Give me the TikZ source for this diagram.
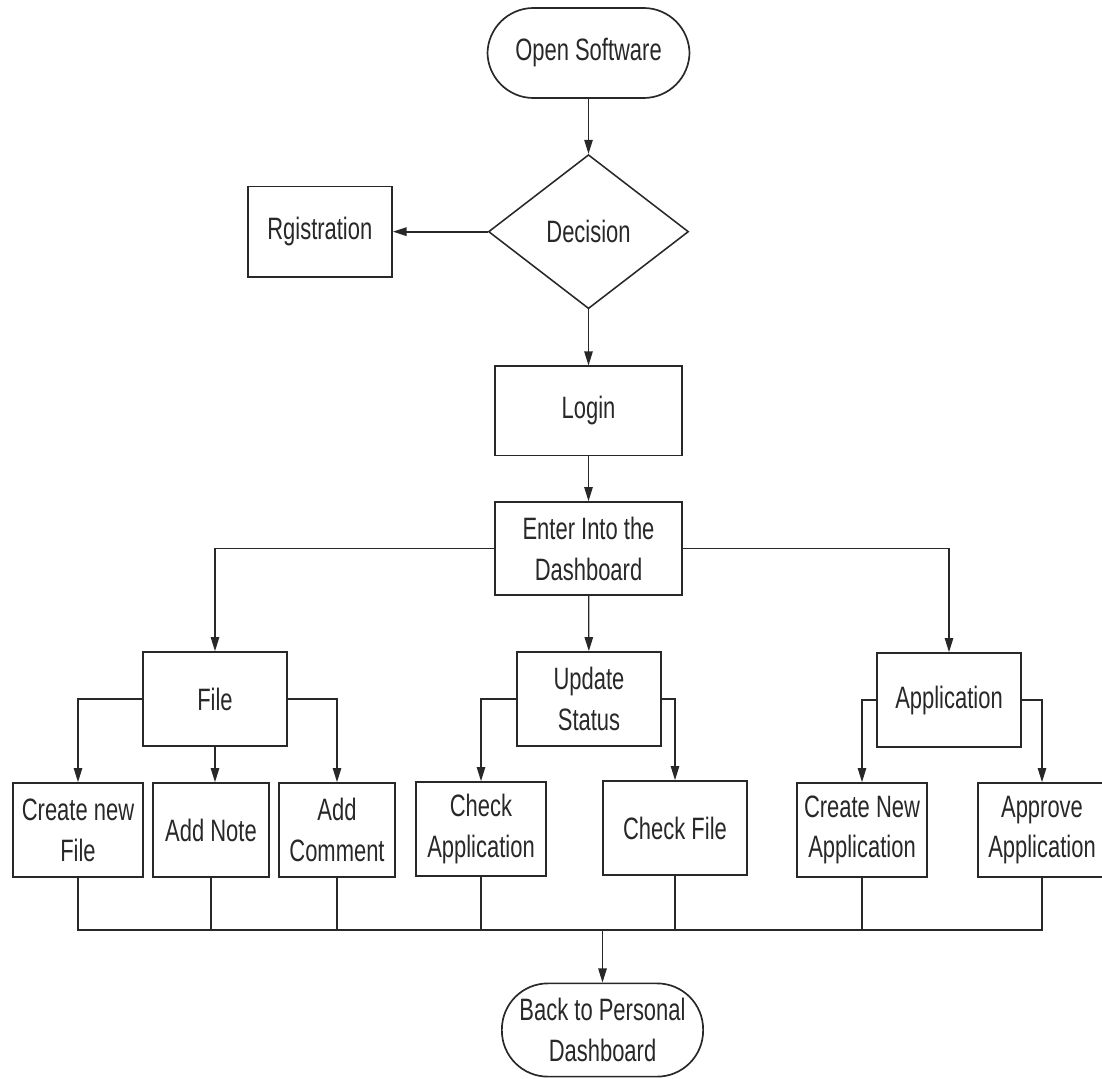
\documentclass[tikz,border=0pt]{standalone}
\usepackage{fontspec}
\setmainfont[FakeStretch=0.71]{Liberation Sans}
\usetikzlibrary{shapes,arrows.meta,positioning}
\definecolor{linegray}{RGB}{40,40,40}

\begin{document}
\begin{tikzpicture}[x=0.025cm, y=-0.025cm,
    every node/.style={font=\fontsize{22}{29}\selectfont, text=linegray},
    terminal/.style={rectangle, draw=linegray, rounded corners=1.15cm, minimum width=5.05cm,
        minimum height=2.25cm, line width=1.2pt, align=center, inner sep=0pt},
    decide/.style={diamond, draw=linegray, minimum width=5cm, minimum height=3.85cm,
        line width=1.1pt, inner sep=0pt},
    box/.style={rectangle, draw=linegray, line width=1.2pt, align=center,
        minimum height=2.35cm, inner sep=0pt},
    arrow/.style={-{Triangle[length=10pt,width=6pt]}, line width=0.9pt, draw=linegray},
    link/.style={line width=0.9pt, draw=linegray}
]
    \useasboundingbox (0,0) rectangle (1102,1078);
    % top of the flow
    \node[terminal] (open) at (588.5,53) {Open Software};
    \node[decide, below=1.375cm of open] (decision) {Decision};
    \node[box, minimum width=3.6cm, minimum height=2.25cm, left=2.375cm of decision] (reg) {Rgistration};
    \node[box, minimum width=4.675cm, minimum height=2.225cm, below=1.4cm of decision] (login) {Login};
    \node[box, minimum width=4.675cm, minimum height=2.325cm, below=1.125cm of login] (enter) {Enter Into the\\Dashboard};
    % second level
    \node[box, minimum width=3.6cm] (file) at (215,699) {File};
    \node[box, minimum width=3.6cm] (update) at (589,699) {Update\\Status};
    \node[box, minimum width=3.6cm] (appl) at (949,700) {Application};
    % third level
    \node[box, minimum width=3.25cm] (createfile) at (78,830) {Create new\\File};
    \node[box, minimum width=2.9cm] (addnote) at (211,830) {Add Note};
    \node[box, minimum width=2.9cm] (addcomment) at (337,830) {Add\\Comment};
    \node[box, minimum width=3.25cm] (checkapp) at (481,829) {Check\\Application};
    \node[box, minimum width=3.6cm] (checkfile) at (675,828) {Check File};
    \node[box, minimum width=3.25cm] (createapp) at (862,830) {Create New\\Application};
    \node[box, minimum width=3.2cm] (approve) at (1042,830) {Approve\\Application};
    \coordinate (bus) at (602.5,930);
    \node[terminal, minimum width=5.03cm, minimum height=2.33cm] (back) at (602.5,1030) {Back to Personal\\Dashboard};

    \draw[arrow] (open) -- (decision);
    \draw[arrow, line width=1.6pt] (decision) -- (reg);
    \draw[arrow] (decision) -- (login);
    \draw[arrow] (login) -- (enter);
    \draw[arrow] (enter.west) -| (file.north);
    \draw[arrow] (enter) -- (update);
    \draw[arrow] (enter.east) -| (appl.north);
    \draw[arrow] (file.west) -| (createfile.north);
    \draw[arrow] (file.south) -- (file.south |- addnote.north);
    \draw[arrow] (file.east) -| (addcomment.north);
    \draw[arrow] (update.west) -| (checkapp.north);
    \draw[arrow] (update.east) -| (checkfile.north);
    \draw[arrow] (appl.west) -| (createapp.north);
    \draw[arrow] (appl.east) -| (approve.north);
    \foreach \n in {createfile,addnote,addcomment,checkapp,checkfile,createapp,approve}
        \draw[link] (\n.south) |- (bus);
    \draw[arrow] (bus) -- (back);
\end{tikzpicture}
\end{document}
